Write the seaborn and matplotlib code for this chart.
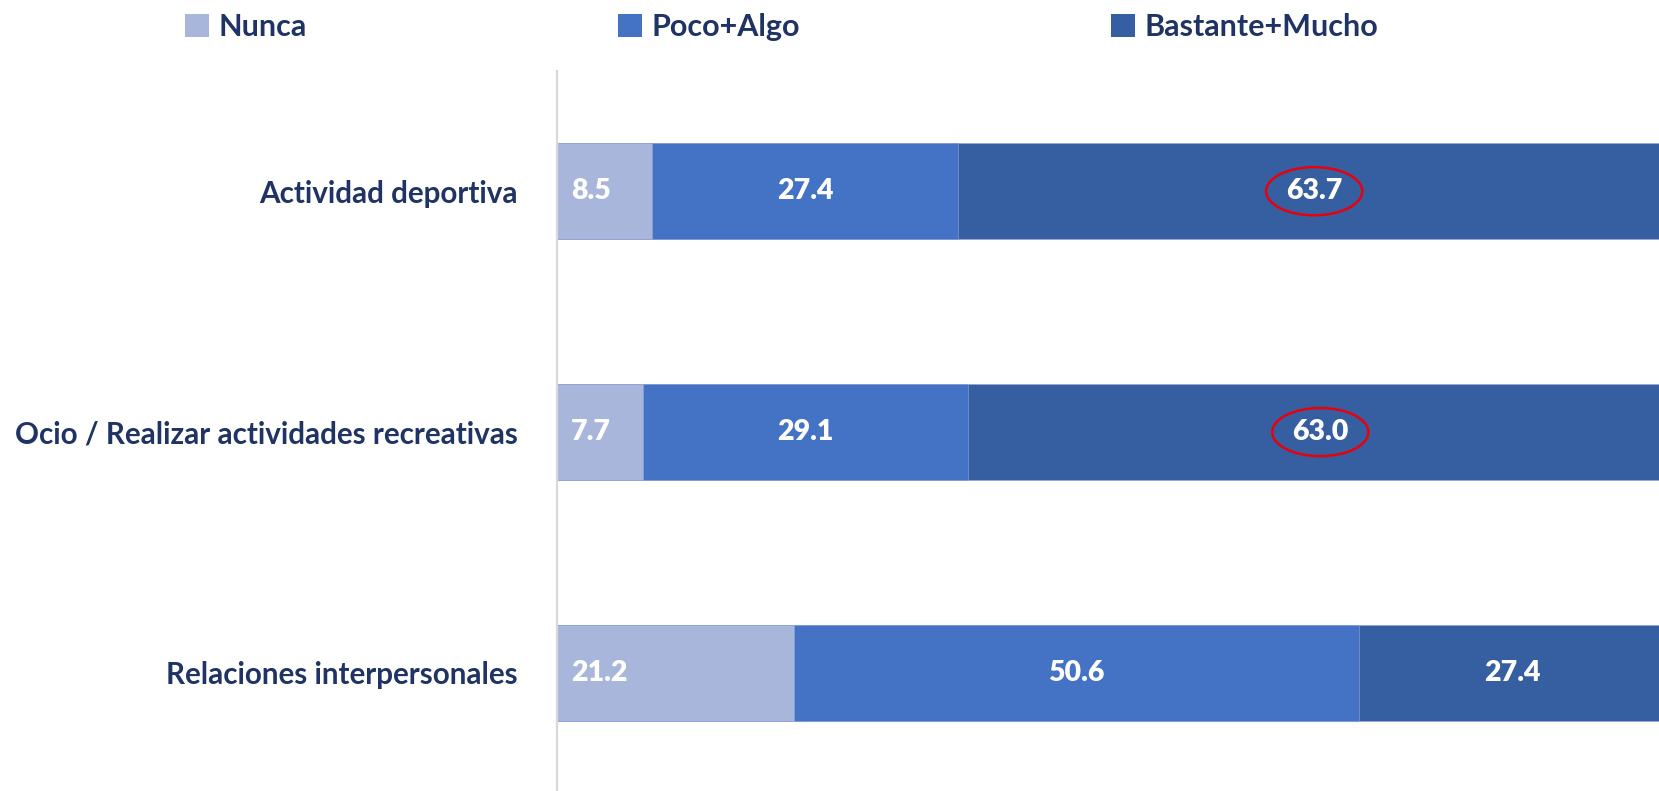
import numpy as np
import pandas as pd
import seaborn as sns
from matplotlib import pyplot as plt
from matplotlib.patches import Ellipse, Patch

# datos
categorias = ['Actividad deportiva', 'Ocio / Realizar actividades recreativas', 'Relaciones interpersonales']
series = ['Nunca', 'Poco+Algo', 'Bastante+Mucho']
nunca = [8.5, 7.7, 21.2]
poco_algo = [27.4, 29.1, 50.6]
bastante_mucho = [63.7, 63.0, 27.4]
destacados = [True, True, False]  # los que van con circulo rojo

colores = ['#A9B6DB', '#4472C4', '#365FA2']
texto = '#1F3464'

sns.set_theme(style='white')
plt.rcParams['font.family'] = ['Lato', 'DejaVu Sans']

df = pd.DataFrame({'cat': categorias, 'Nunca': nunca,
                   'Poco+Algo': poco_algo, 'Bastante+Mucho': bastante_mucho})
acum = df[series].cumsum(axis=1)

fig = plt.figure(figsize=(16.59, 7.91), dpi=100)
ax = fig.add_axes([0.3357, 0.0, 0.6643, 0.9105])

# apilado: primero el total, luego los parciales encima
for i in reversed(range(len(series))):
    sns.barplot(x=acum[series[i]], y=df['cat'], orient='h', color=colores[i],
                width=0.40, ax=ax, saturation=1, edgecolor='#8FA6D6', linewidth=0.4)

for i, s in enumerate(series):
    mid = acum[s] - df[s] / 2
    for j in range(len(df)):
        if s == 'Nunca':
            # Nunca va pegado a la izquierda
            ax.text(1.25, j, f'{df[s][j]:.1f}', ha='left', va='center',
                    color='white', fontsize=20.5, fontweight='heavy')
        else:
            ax.text(mid[j], j, f'{df[s][j]:.1f}', ha='center', va='center',
                    color='white', fontsize=20.5, fontweight='heavy')
        if s == 'Bastante+Mucho' and destacados[j]:
            ax.add_patch(Ellipse((mid[j], j), 8.6, 0.20, fill=False,
                                 edgecolor='#E8000B', linewidth=1.8, zorder=5))

ax.set_xlim(0, 98.6)
ax.set_ylim(2.49, -0.5)
ax.set_xlabel('')
ax.set_ylabel('')
ax.set_xticks([])
ax.tick_params(axis='y', length=0, pad=28)
for lab in ax.get_yticklabels():
    lab.set_fontsize(21.3)
    lab.set_fontweight('bold')
    lab.set_color(texto)
for sp in ['top', 'right', 'bottom']:
    ax.spines[sp].set_visible(False)
ax.spines['left'].set_color('#D9D9D9')
ax.spines['left'].set_linewidth(1.6)

handles = [Patch(facecolor=c, edgecolor='none') for c in colores]
leg = fig.legend(handles, series, loc='upper left', bbox_to_anchor=(0.095, 1.018),
                 ncol=3, frameon=False, fontsize=22, handlelength=0.78, handleheight=0.78,
                 handletextpad=0.3, columnspacing=10.2)
for t in leg.get_texts():
    t.set_color(texto)
    t.set_fontweight('bold')

fig.savefig('out.png', dpi=100)
